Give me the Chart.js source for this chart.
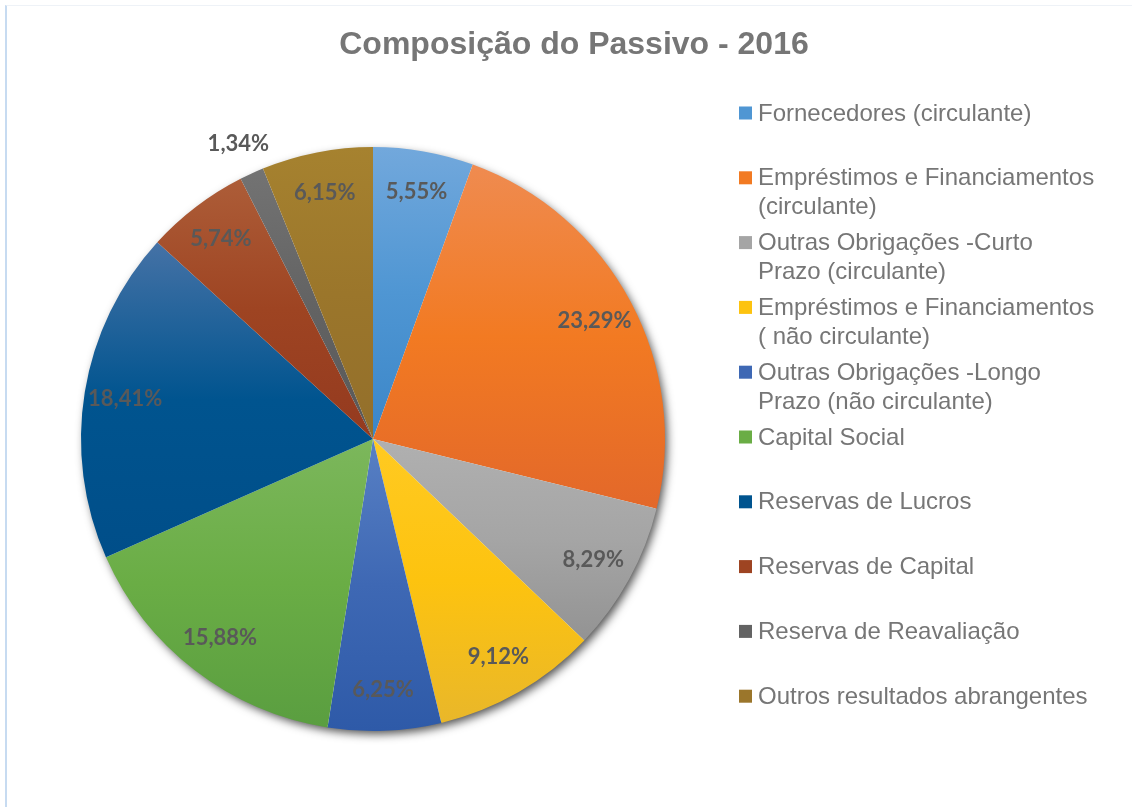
<!DOCTYPE html>
<html lang="pt">
<head>
<meta charset="utf-8">
<title>Composição do Passivo - 2016</title>
<script src="https://cdn.jsdelivr.net/npm/chart.js@4.4.1/dist/chart.umd.min.js"></script>
<style>
  html, body { margin: 0; padding: 0; background: #fff; }
  #wrap { position: relative; width: 1132px; height: 807px; overflow: hidden; }
  #frame {
    position: absolute; left: 5px; top: 5px; right: 0; bottom: 0;
    border-left: 2px solid #c7dbf1; border-top: 1px solid #eef2f7;
  }
  #chart { position: absolute; left: 0; top: 0; }
</style>
</head>
<body>
<div id="wrap">
  <div id="frame"></div>
  <canvas id="chart" width="1132" height="807"></canvas>
</div>
<script>
const TITLE = "Composição do Passivo - 2016";

const categories = [
  "Fornecedores (circulante)",
  ["Empréstimos e Financiamentos", "(circulante)"],
  ["Outras Obrigações -Curto", "Prazo (circulante)"],
  ["Empréstimos e Financiamentos", "( não circulante)"],
  ["Outras Obrigações -Longo", "Prazo (não circulante)"],
  "Capital Social",
  "Reservas de Lucros",
  "Reservas de Capital",
  "Reserva de Reavaliação",
  "Outros resultados abrangentes",
];

const shares = [5.55, 23.29, 8.29, 9.12, 6.25, 15.88, 18.41, 5.74, 1.34, 6.15];

// top / middle / bottom tone of each slice gradient
const colorTop = ["#72a8dc", "#ef8b50", "#b0b0b0", "#ffca22", "#5880c4", "#7cb75c", "#4572a6", "#ad5d38", "#737373", "#a6822f"];
const colorMid = ["#4f96d3", "#f27a22", "#a5a5a5", "#fdc30f", "#3e68b4", "#6aad45", "#00548f", "#9e4422", "#636363", "#9b762b"];
const colorBot = ["#3b86c8", "#e3682a", "#939393", "#e9b72a", "#2e5aa8", "#5a9e40", "#004e89", "#943a1f", "#585858", "#936f2b"];

const TEXT_GREY = "#767676";
const LABEL_GREY = "#595959";

function fmtPct(v) {
  return v.toFixed(2).replace(".", ",") + "%";
}

// vertical gradient spanning one slice's own bounding box
function sliceGradient(ctx) {
  const chart = ctx.chart;
  const i = ctx.dataIndex;
  const area = chart.chartArea;
  if (!area) return colorMid[i];
  const cx = (area.left + area.right) / 2;
  const cy = (area.top + area.bottom) / 2;
  const r = Math.min(area.right - area.left, area.bottom - area.top) / 2;
  const total = shares.reduce((a, b) => a + b, 0);
  let before = 0;
  for (let k = 0; k < i; k++) before += shares[k];
  const a0 = -Math.PI / 2 + (before / total) * Math.PI * 2;
  const a1 = a0 + (shares[i] / total) * Math.PI * 2;
  const ys = [cy, cy + Math.sin(a0) * r, cy + Math.sin(a1) * r];
  const inRange = (a) => {
    let t = a;
    while (t < a0) t += Math.PI * 2;
    return t <= a1;
  };
  if (inRange(-Math.PI / 2)) ys.push(cy - r);
  if (inRange(Math.PI / 2)) ys.push(cy + r);
  const y0 = Math.min(...ys);
  const y1 = Math.max(...ys);
  const g = chart.ctx.createLinearGradient(0, y0, 0, y1);
  g.addColorStop(0, colorTop[i]);
  g.addColorStop(0.5, colorMid[i]);
  g.addColorStop(1, colorBot[i]);
  return g;
}

const pieShadow = {
  id: "pieShadow",
  beforeDatasetsDraw(chart) {
    const arc = chart.getDatasetMeta(0).data[0];
    if (!arc) return;
    const c = chart.ctx;
    c.save();
    c.shadowColor = "rgba(0,0,0,0.7)";
    c.shadowBlur = 10;
    c.shadowOffsetX = 3;
    c.shadowOffsetY = 4;
    c.fillStyle = "#ffffff";
    c.beginPath();
    c.arc(arc.x, arc.y, arc.outerRadius - 1, 0, Math.PI * 2);
    c.fill();
    c.restore();
  },
};

const sliceLabels = {
  id: "sliceLabels",
  afterDatasetsDraw(chart) {
    const c = chart.ctx;
    const meta = chart.getDatasetMeta(0);
    c.save();
    c.font = "bold 22px Lato, 'Open Sans', sans-serif";
    c.fillStyle = LABEL_GREY;
    c.textAlign = "center";
    c.textBaseline = "middle";
    meta.data.forEach((arc, i) => {
      const mid = (arc.startAngle + arc.endAngle) / 2;
      const f = shares[i] < 2 ? 1.11 : 0.86;
      const r = arc.outerRadius * f;
      c.fillText(fmtPct(shares[i]), arc.x + Math.cos(mid) * r, arc.y + Math.sin(mid) * r);
    });
    c.restore();
  },
};

const titleAndLegend = {
  id: "titleAndLegend",
  afterDraw(chart) {
    const c = chart.ctx;
    c.save();
    c.fillStyle = TEXT_GREY;
    c.textAlign = "center";
    c.textBaseline = "middle";
    c.font = "bold 32px 'Liberation Sans', Arial, sans-serif";
    c.fillText(TITLE, 574, 45);

    c.font = "24px 'Liberation Sans', Arial, sans-serif";
    c.textAlign = "left";
    const x0 = 739;
    const yStart = 113;
    const step = 64.8;
    const lineH = 28.7;
    const box = 13;
    categories.forEach((label, i) => {
      const y = yStart + i * step;
      c.fillStyle = colorMid[i];
      c.fillRect(x0, y - box / 2, box, box);
      c.fillStyle = TEXT_GREY;
      const lines = Array.isArray(label) ? label : [label];
      lines.forEach((ln, j) => c.fillText(ln, x0 + 19, y + 1 + j * lineH));
    });
    c.restore();
  },
};

new Chart(document.getElementById("chart"), {
  type: "pie",
  data: {
    labels: categories,
    datasets: [{
      data: shares,
      backgroundColor: sliceGradient,
      borderWidth: 0,
    }],
  },
  options: {
    responsive: false,
    animation: false,
    layout: { padding: { left: 81, top: 147, right: 467, bottom: 76 } },
    plugins: {
      legend: { display: false },
      title: { display: false },
      tooltip: { enabled: false },
    },
  },
  plugins: [pieShadow, sliceLabels, titleAndLegend],
});
</script>
</body>
</html>
